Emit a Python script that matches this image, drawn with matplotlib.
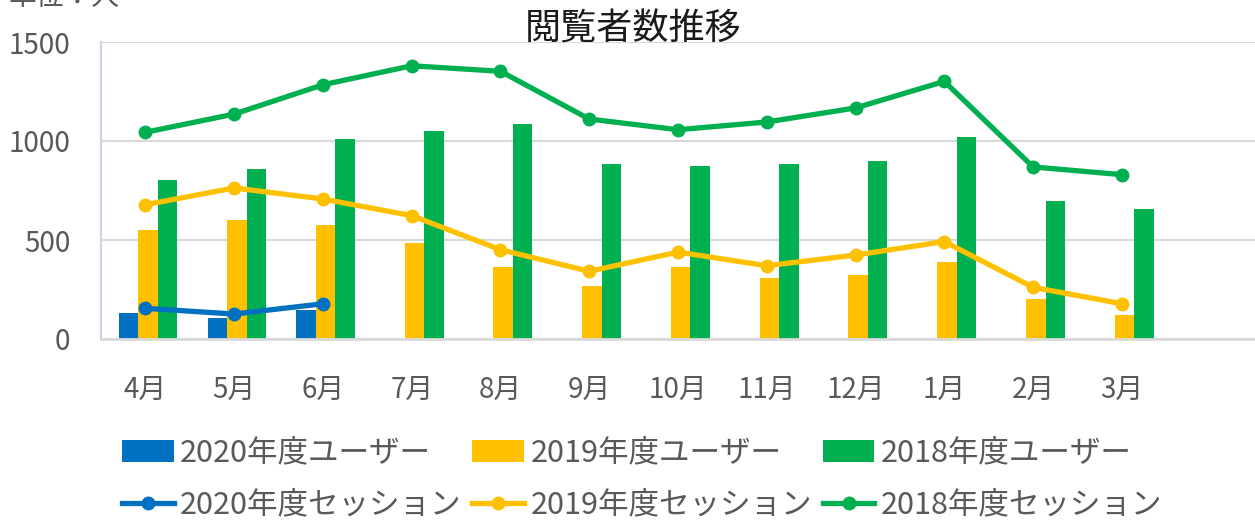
import matplotlib
matplotlib.use("Agg")
import matplotlib.pyplot as plt
import numpy as np

plt.rcParams['font.family'] = ['Noto Sans CJK JP', 'DejaVu Sans']

months = ["4月", "5月", "6月", "7月", "8月", "9月", "10月", "11月", "12月", "1月", "2月", "3月"]
users_2020 = [130, 105, 147]
users_2019 = [551, 603, 576, 483, 362, 268, 362, 310, 322, 389, 200, 120]
users_2018 = [805, 859, 1010, 1049, 1088, 886, 875, 886, 899, 1020, 697, 657]
sessions_2020 = [155, 126, 178]
sessions_2019 = [678, 763, 707, 623, 451, 342, 439, 370, 424, 492, 261, 178]
sessions_2018 = [1044, 1136, 1284, 1380, 1352, 1111, 1057, 1096, 1167, 1301, 869, 830]

c_blue = "#0070C0"
c_yellow = "#FFC000"
c_green = "#00B050"
txt = "#595959"

fig = plt.figure(figsize=(12.55, 5.21), dpi=100)
ax = fig.add_axes([101/1255, 1-339/521, 1-101/1255, (339-42)/521])

x = np.arange(len(months))
w = 0.22
b1 = ax.bar(x[:len(users_2020)] - 0.19, users_2020, width=w, color=c_blue, zorder=2)
b2 = ax.bar(x + 0.03, users_2019, width=w, color=c_yellow, zorder=2)
b3 = ax.bar(x + 0.25, users_2018, width=w, color=c_green, zorder=2)

lw = 3.8
ms = 9
l1, = ax.plot(x[:len(sessions_2020)], sessions_2020, color=c_blue, lw=lw, marker='o', ms=ms, zorder=3)
l2, = ax.plot(x, sessions_2019, color=c_yellow, lw=lw, marker='o', ms=ms, zorder=3)
l3, = ax.plot(x, sessions_2018, color=c_green, lw=lw, marker='o', ms=ms, zorder=3)

ax.set_xlim(-0.5, 12.5)
ax.set_ylim(0, 1500)
ax.set_yticks([0, 500, 1000, 1500])
ax.set_xticks(x)
ax.set_xticklabels(months)
ax.tick_params(axis='x', length=0, pad=26, labelsize=20, colors=txt)
ax.tick_params(axis='y', length=0, pad=22, labelsize=20, colors=txt)
ax.grid(axis='y', color="#D9D9D9", lw=1.5, zorder=0)
ax.set_axisbelow(True)
for s in ['top', 'right']:
    ax.spines[s].set_visible(False)
ax.spines['left'].set_color("#C9D3E6")
ax.spines['left'].set_linewidth(1.5)
ax.spines['bottom'].set_color("#D9D9D9")
ax.spines['bottom'].set_linewidth(2)

fig.text(633/1255, 1-30/521, "閲覧者数推移", ha='center', va='center', fontsize=26, color="#1a1a1a")
fig.text(8/1255, 1-5/521, "単位：人", ha='left', va='baseline', fontsize=20, color=txt)

handles = [b1, l1, b2, l2, b3, l3]
labels = ["2020年度ユーザー", "2020年度セッション", "2019年度ユーザー", "2019年度セッション",
          "2018年度ユーザー", "2018年度セッション"]
leg = fig.legend(handles, labels, ncol=3, loc='center', bbox_to_anchor=(642/1255, 1-479/521),
                 frameon=False, fontsize=22, labelcolor=txt, handlelength=1.7, handletextpad=0.2,
                 columnspacing=0.35, labelspacing=0.68, borderaxespad=0, borderpad=0)

fig.savefig("out.png", dpi=100)
